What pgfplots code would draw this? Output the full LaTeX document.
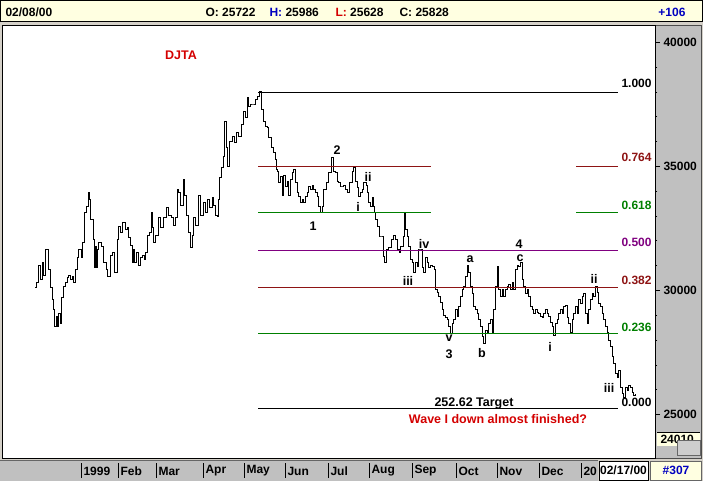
\documentclass[border=0pt]{standalone}
\usepackage{pgfplots}
\pgfplotsset{compat=1.18}
\usepackage{fontspec}
\setmainfont{Liberation Sans}
\definecolor{fibred}{HTML}{8E1414}
\definecolor{fibgreen}{HTML}{008000}
\definecolor{fibpurple}{HTML}{800080}
\definecolor{txtred}{HTML}{D40000}
\definecolor{txtblue}{HTML}{0000C0}
\definecolor{cream}{HTML}{FFFFE1}
\definecolor{panel}{HTML}{C0C0C0}
\definecolor{frame}{HTML}{D4D0C8}
\newcommand{\fs}[1]{\fontsize{#1}{#1}\selectfont\bfseries}
\pgfplotstableread{
x P
35 30099
36 30300
38 31025
40 30421
42 31146
43 30622
45 31630
47 31670
48 30824
50 30099
52 29615
53 29212
54 28527
56 28930
57 28527
58 29091
60 28688
61 29696
63 30139
65 30340
67 30502
68 30622
70 30421
72 30542
73 30340
75 30824
77 31308
78 31630
81 31308
82 31952
84 33161
86 33363
88 33927
89 33645
90 32839
93 32033
94 30905
95 31751
96 30905
97 31630
98 31912
101 31751
103 31106
106 30824
107 30542
110 31428
112 31509
114 30743
117 32033
118 32557
120 32315
122 32718
125 32436
127 32517
128 32114
130 31831
132 31146
133 31630
134 31106
136 31549
138 31025
140 31308
142 31428
144 31227
145 31549
147 32234
149 32355
151 33161
152 32517
153 31952
155 32234
158 32920
160 32517
163 32920
166 33323
168 33040
171 32920
173 32637
175 32920
177 34048
178 33967
180 33443
183 34451
184 33846
186 33040
188 32355
190 31711
192 32234
193 32920
195 32637
198 33846
200 33040
203 33564
205 33161
207 33645
209 33323
212 33726
213 33443
215 33040
217 32960
218 33645
219 34532
221 34935
223 35378
224 36788
226 35741
227 34975
229 35982
232 36184
234 35942
236 36345
238 36184
241 36667
243 37191
245 36950
247 37756
248 37393
250 37473
253 37473
255 37675
257 37796
259 37997
261 37272
263 36788
265 36587
267 36547
268 36144
271 35741
273 35539
275 35257
276 34854
277 34773
278 34330
280 34572
282 33846
283 34652
285 34169
287 34370
288 33846
290 34451
292 34733
293 34854
295 34330
297 33927
298 33766
300 33524
302 33645
303 33564
305 33766
307 33927
308 34169
310 34048
312 34249
313 34048
315 33967
317 33766
318 33363
320 33161
322 33363
323 34048
326 34330
328 34733
331 35338
333 34773
335 34733
337 34370
338 34330
340 34169
342 34169
343 34249
345 34048
347 33927
349 34330
352 34773
353 34935
355 34370
357 34129
358 33766
360 33967
362 34048
363 34330
366 34249
367 33927
368 33564
370 33363
372 33726
373 33363
374 33121
375 32839
377 32557
379 32154
381 32154
383 31348
384 31106
386 31630
388 31711
391 32033
393 32234
395 32033
397 31630
399 31509
400 31751
403 32154
404 33121
405 32436
407 32154
408 31751
410 31227
412 31106
413 30703
415 31146
417 30945
418 31630
420 31630
422 30905
423 30703
425 31308
427 31106
428 30905
430 31025
432 30945
434 30824
435 30018
437 29937
438 29736
440 29534
442 29212
443 29010
445 28890
447 28809
448 28527
450 28285
452 28688
453 28809
455 29212
457 28930
458 29333
460 29736
462 30018
463 30139
465 30542
467 31025
468 30703
470 30139
472 29897
473 29333
475 29212
477 29091
478 28809
480 28527
482 28124
483 27882
485 28406
487 28285
488 28688
490 28809
492 28285
493 29212
495 30139
497 30945
498 30018
500 29736
502 30018
503 29736
505 30018
507 30139
508 30220
510 30018
512 30300
513 30018
515 30824
517 31025
518 30945
520 31106
522 30421
523 30139
525 29897
527 30018
528 29736
530 29333
532 29212
533 29091
535 29212
537 29131
538 29091
540 28930
542 28890
543 29091
545 29212
547 29091
548 28930
550 28728
552 28527
553 28204
555 28688
557 28809
558 29091
560 29212
562 29091
563 29333
565 29413
567 28890
568 28688
570 28325
572 28809
573 29091
575 29333
577 29091
578 29615
580 29494
582 29736
583 29897
585 29091
587 28688
588 29212
590 29615
592 29897
593 29736
595 30139
597 29937
598 29494
600 29333
602 29091
603 28809
605 28527
607 28325
608 28003
610 27721
612 27318
613 27076
615 26673
617 26512
618 26794
620 26109
622 25867
623 25706
625 26069
627 25988
628 26189
630 26109
632 25907
633 25786
635 25828
}\djta
\begin{document}
\begin{tikzpicture}[x=1pt,y=1pt]
\useasboundingbox (0,0) rectangle (703,481);
\fill[frame] (0,0) rectangle (703,481);
% header
\fill[cream] (0,460) rectangle (703,481);
\draw[black,line width=0.6pt] (0.3,459.5) rectangle (702.7,480.7);
% chart area + right panel
\fill[white] (2,23) rectangle (655,456);
\fill[panel] (655,23) rectangle (701,456);
\draw[black!70,line width=0.6pt] (655,23) rectangle (701,456);
% bottom bar
\fill[panel] (0,0) rectangle (598,21);
\draw[black!60,line width=0.6pt] (0,21)--(598,21);
\begin{axis}[
  at={(2pt,23pt)}, anchor=south west,
  scale only axis, width=653pt, height=433pt,
  xmin=2, xmax=655, ymin=23248, ymax=40697,
  axis line style={black,line width=0.6pt},
  xtick={81,118,156,203,244,285,328,369,412,456,497,539,581},
  xticklabels={1999,Feb,Mar,Apr,May,Jun,Jul,Aug,Sep,Oct,Nov,Dec,20},
  xtick style={draw=none},
  xticklabel style={anchor=west, yshift=-8pt, xshift=-1pt, font=\fs{12}},
  scaled y ticks=false,
  ytick={25000,30000,35000,40000},
  yticklabels={25000,30000,35000,40000},
  minor y tick num=4,
  ytick pos=right, yticklabel pos=right,
  tick align=outside,
  major tick length=5pt, minor tick length=2pt,
  ytick style={black,line width=0.7pt},
  yticklabel style={anchor=west, xshift=0pt, font=\fs{12}},
]
\addplot[const plot, black, line width=1pt] table[x=x,y=P] {\djta};
% Fibonacci levels
\addplot[black, line width=0.7pt] coordinates {(258,37997) (618,37997)};
\addplot[fibred, line width=0.7pt] coordinates {(258,34992) (431,34992)};
\addplot[fibred, line width=0.7pt] coordinates {(576,34992) (618,34992)};
\addplot[fibgreen, line width=0.7pt] coordinates {(258,33133) (431,33133)};
\addplot[fibgreen, line width=0.7pt] coordinates {(576,33133) (618,33133)};
\addplot[fibpurple, line width=0.7pt] coordinates {(258,31630) (618,31630)};
\addplot[fibred, line width=0.7pt] coordinates {(258,30127) (618,30127)};
\addplot[fibgreen, line width=0.7pt] coordinates {(258,28268) (618,28268)};
\addplot[black, line width=0.7pt] coordinates {(258,25263) (618,25263)};
\end{axis}
% header text
\node[anchor=west, font=\fs{12}] at (2,469) {02/08/00};
\node[anchor=west, font=\fs{12}] at (202,469) {O: 25722};
\node[anchor=west, font=\fs{12}] at (266,469) {\textcolor{txtblue}{H:} 25986};
\node[anchor=west, font=\fs{12}] at (332,469) {\textcolor{txtred}{L:} 25628};
\node[anchor=west, font=\fs{12}] at (396,469) {C: 25828};
\node[anchor=east, font=\fs{12}, txtblue] at (689,469) {+106};
% bottom bar
\foreach \t in {81,118,156,203,244,285,328,369,412,456,497,539,581} {\draw[black,line width=0.8pt] (\t,3)--(\t,18);}
\draw[black,line width=0.8pt,fill=white] (599,1) rectangle (648,20);
\node[font=\fs{12}] at (623.5,10.5) {02/17/00};
\draw[black!60,line width=0.6pt,fill=cream] (650,1) rectangle (701,20);
\node[font=\fs{12}, txtblue] at (676,10.5) {\#307};
% last value box
\fill[cream] (657,35) rectangle (700,49);
\draw[black,line width=0.6pt] (657,49)--(700,49);
\node[anchor=west, font=\fs{12}] at (657,42) {24010};
\draw[black!60,fill=panel!80] (677,26) rectangle (700,41);
% fib labels
\node[anchor=west, font=\fs{12}] at (618,398) {1.000};
\node[anchor=west, font=\fs{12}, fibred] at (618,324) {0.764};
\node[anchor=west, font=\fs{12}, fibgreen] at (618,276) {0.618};
\node[anchor=west, font=\fs{12}, fibpurple] at (618,239) {0.500};
\node[anchor=west, font=\fs{12}, fibred] at (618,201) {0.382};
\node[anchor=west, font=\fs{12}, fibgreen] at (618,154) {0.236};
\node[anchor=west, font=\fs{12}] at (618,79) {0.000};
% annotations
\node[font=\fs{12.5}, txtred] at (181,426) {DJTA};
\node[font=\fs{12.5}] at (337,331) {2};
\node[font=\fs{12.5}] at (368,304) {ii};
\node[font=\fs{12.5}] at (358,274) {i};
\node[font=\fs{12.5}] at (313,255) {1};
\node[font=\fs{12.5}] at (424,237) {iv};
\node[font=\fs{12.5}] at (408,200) {iii};
\node[font=\fs{12.5}] at (519,237) {4};
\node[font=\fs{12.5}] at (470,222) {a};
\node[font=\fs{12.5}] at (520,223) {c};
\node[font=\fs{12.5}] at (449,143) {v};
\node[font=\fs{12.5}] at (449,127) {3};
\node[font=\fs{12.5}] at (482,128) {b};
\node[font=\fs{12.5}] at (550,134) {i};
\node[font=\fs{12.5}] at (594,202) {ii};
\node[font=\fs{12.5}] at (609,93) {iii};
\node[font=\fs{12.5}] at (474,78) {252.62 Target};
\node[font=\fs{12.5}, txtred] at (498,62) {Wave I down almost finished?};
\end{tikzpicture}
\end{document}
